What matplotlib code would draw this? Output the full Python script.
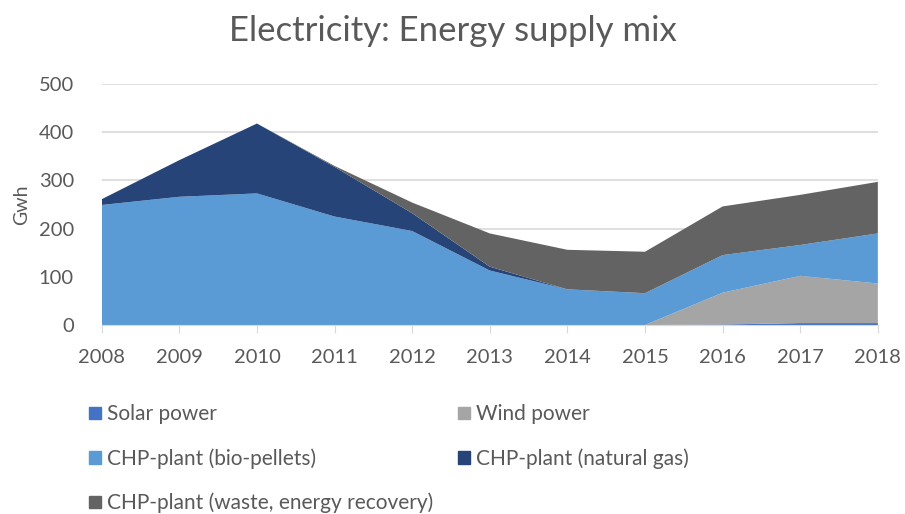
import numpy as np
import matplotlib.pyplot as plt
from matplotlib.patches import Patch

years = [2008, 2009, 2010, 2011, 2012, 2013, 2014, 2015, 2016, 2017, 2018]
solar = [0, 0, 0, 0, 0, 0, 0, 0, 1, 4, 4]
wind = [0, 0, 0, 0, 0, 0, 0, 0, 66, 98, 82]
bio_pellets = [249, 266, 273, 225, 195, 113, 74, 66, 78, 64, 104]
natural_gas = [12, 76, 145, 103, 37, 8, 0, 0, 0, 0, 0]
waste = [0, 0, 0, 2, 22, 69, 82, 86, 101, 104, 107]

labels = ["Solar power", "Wind power", "CHP-plant (bio-pellets)",
          "CHP-plant (natural gas)", "CHP-plant (waste, energy recovery)"]
colors = ["#4472C4", "#A5A5A5", "#5B9BD5", "#264478", "#636363"]

plt.rcParams['font.family'] = ['Lato', 'DejaVu Sans']
txt = "#595959"

fig = plt.figure(figsize=(9.05, 5.14), dpi=100)
ax = fig.add_axes([0.1124, 0.3677, 0.8576, 0.4689])

# stacked areas, bottom to top
ax.stackplot(years, solar, wind, bio_pellets, natural_gas, waste,
             colors=colors, linewidth=0, zorder=2)

ax.set_xlim(2008, 2018)
ax.set_ylim(0, 500)
ax.set_xticks(years)
ax.set_yticks(range(0, 501, 100))
ax.grid(axis='y', color="#d9d9d9", linewidth=1.2, zorder=0)
for s in ['top', 'right', 'left']:
    ax.spines[s].set_visible(False)
ax.spines['bottom'].set_color("#d9d9d9")
ax.spines['bottom'].set_zorder(3)
ax.tick_params(axis='y', length=0, labelsize=14.5, labelcolor=txt, pad=20)
ax.tick_params(axis='x', length=6, color="#d9d9d9", labelsize=14.5,
               labelcolor=txt, pad=11)
ax.set_ylabel("Gwh", fontsize=14, color=txt, labelpad=6)

fig.suptitle("Electricity: Energy supply mix", fontsize=25, color=txt, y=0.97)

# legend filled row-wise like the original (matplotlib fills by column)
handles = [Patch(color=c) for c in colors]
order = [0, 2, 4, 1, 3]
fig.legend([handles[i] for i in order], [labels[i] for i in order],
           ncol=2, loc='upper left', bbox_to_anchor=(0.0895, 0.2296),
           frameon=False, fontsize=15, labelcolor=txt,
           handlelength=0.55, handleheight=0.55, handletextpad=0.3,
           labelspacing=1.15, columnspacing=1.2, borderaxespad=0)

fig.savefig("out.png", dpi=100)
